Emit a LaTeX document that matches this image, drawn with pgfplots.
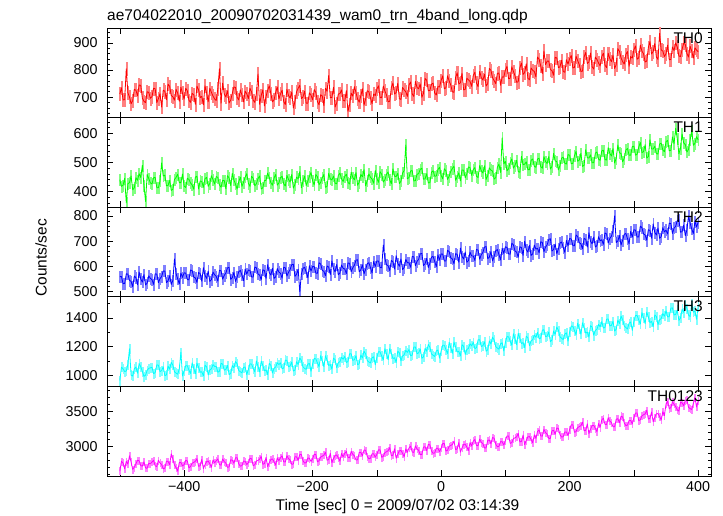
\documentclass[border=0pt]{standalone}
\usepackage{fontspec}
\setmainfont{Liberation Sans}
\usepackage{pgfplots}
\pgfplotsset{compat=1.18}
\usepackage{pgfplotstable}
\definecolor{cR}{rgb}{1,0,0}
\definecolor{cG}{rgb}{0,1,0}
\definecolor{cB}{rgb}{0,0,1}
\definecolor{cC}{rgb}{0,1,1}
\definecolor{cM}{rgb}{1,0,1}
\definecolor{lR}{rgb}{1,0.5,0.5}
\definecolor{lG}{rgb}{0.5,1,0.5}
\definecolor{lB}{rgb}{0.5,0.5,1}
\definecolor{lC}{rgb}{0.5,1,1}
\definecolor{lM}{rgb}{1,0.5,1}

\pgfplotstableread[row sep=\\]{
x a b c d e\\
-500 712 440 560 965 2640\\
-497.5 735 417 560 1057 2782\\
-495 690 421 532 1045 2758\\
-492.5 691 445 533 1026 2674\\
-490 805 360 571 1030 2780\\
-487.5 716 426 570 1077 2742\\
-485 701 430 545 1185 2860\\
-482.5 676 453 541 1001 2769\\
-480 688 405 520 995 2665\\
-477.5 729 412 562 1046 2696\\
-475 726 447 556 1058 2745\\
-472.5 705 438 528 1015 2796\\
-470 745 461 578 1082 2790\\
-467.5 744 448 551 1060 2719\\
-465 697 490 538 1027 2712\\
-462.5 685 421 568 993 2773\\
-460 680 365 527 1001 2684\\
-457.5 720 458 534 1035 2683\\
-455 718 444 563 1049 2751\\
-452.5 696 429 553 1052 2746\\
-450 702 425 548 1056 2771\\
-447.5 733 447 529 1012 2796\\
-445 731 448 571 1019 2715\\
-442.5 680 413 570 1073 2706\\
-440 695 412 536 1071 2797\\
-437.5 713 436 552 1026 2756\\
-435 664 498 560 1033 2736\\
-432.5 726 453 582 1059 2674\\
-430 722 456 582 998 2683\\
-427.5 691 419 536 1003 2783\\
-425 748 420 543 1064 2780\\
-422.5 740 438 564 1043 2733\\
-420 706 403 529 1090 2890\\
-417.5 702 407 545 1071 2814\\
-415 689 441 630 1025 2727\\
-412.5 729 448 572 1015 2692\\
-410 715 459 551 1008 2640\\
-407.5 685 430 531 1045 2765\\
-405 737 430 574 1160 2764\\
-402.5 715 460 557 995 2715\\
-400 693 418 575 1030 2733\\
-397.5 733 413 574 1067 2795\\
-395 724 445 549 1067 2787\\
-392.5 689 441 547 1036 2687\\
-390 681 429 586 1013 2706\\
-387.5 714 422 584 1087 2755\\
-385 710 407 558 1049 2765\\
-382.5 674 449 555 1011 2782\\
-380 741 452 537 1085 2820\\
-377.5 727 408 576 1056 2709\\
-375 699 436 572 1022 2719\\
-372.5 703 434 542 1025 2809\\
-370 672 414 595 996 2678\\
-367.5 742 444 565 1070 2732\\
-365 716 448 553 1059 2776\\
-362.5 683 417 582 1003 2786\\
-360 733 427 541 1038 2745\\
-357.5 718 454 548 1045 2696\\
-355 704 440 578 1075 2801\\
-352.5 694 425 567 1062 2759\\
-350 688 451 561 1062 2789\\
-347.5 731 448 542 1022 2816\\
-345 805 422 585 1028 2734\\
-342.5 678 414 583 1083 2726\\
-340 752 438 550 1079 2815\\
-337.5 711 437 565 1036 2776\\
-335 701 409 574 1041 2755\\
-332.5 724 454 595 1069 2694\\
-330 679 446 596 1005 2701\\
-327.5 689 420 549 1013 2803\\
-325 714 462 556 1068 2797\\
-322.5 738 439 577 1053 2753\\
-320 736 425 541 1096 2831\\
-317.5 700 408 558 1081 2834\\
-315 690 433 579 1034 2745\\
-312.5 727 449 585 1025 2712\\
-310 708 417 566 1017 2718\\
-307.5 683 431 544 1055 2785\\
-305 722 449 590 1058 2780\\
-302.5 713 461 570 1005 2735\\
-300 695 428 586 1041 2761\\
-297.5 733 417 585 1080 2825\\
-295 719 452 559 1078 2818\\
-292.5 689 445 558 1049 2717\\
-290 681 419 598 1024 2732\\
-287.5 714 426 595 1100 2785\\
-285 785 444 570 1063 2795\\
-282.5 674 453 566 1024 2812\\
-280 706 408 548 1099 2851\\
-277.5 727 412 587 1069 2739\\
-275 668 437 584 1032 2748\\
-272.5 703 438 553 1038 2839\\
-270 725 463 607 1006 2706\\
-267.5 742 448 576 1083 2762\\
-265 713 430 566 1070 2808\\
-262.5 683 421 593 1016 2816\\
-260 690 446 553 1049 2774\\
-257.5 718 458 559 1058 2726\\
-255 738 421 592 1088 2832\\
-252.5 694 429 578 1075 2789\\
-250 712 447 573 1087 2834\\
-247.5 726 452 554 1045 2860\\
-245 684 426 597 1051 2776\\
-242.5 673 418 595 1106 2770\\
-240 729 455 562 1104 2862\\
-237.5 706 441 577 1059 2820\\
-235 697 432 588 1066 2799\\
-232.5 719 458 607 1092 2738\\
-230 660 411 609 1030 2743\\
-227.5 684 424 561 1036 2847\\
-225 720 449 569 1095 2845\\
-222.5 733 443 589 1076 2797\\
-220 744 468 500 1121 2880\\
-217.5 695 412 570 1104 2878\\
-215 701 435 593 1059 2790\\
-212.5 722 453 597 1048 2756\\
-210 678 420 578 1042 2762\\
-207.5 678 435 556 1078 2829\\
-205 716 452 603 1083 2826\\
-202.5 708 465 582 1028 2779\\
-200 690 436 600 1078 2818\\
-197.5 728 422 600 1117 2883\\
-195 718 458 574 1115 2879\\
-192.5 684 450 573 1086 2775\\
-190 672 423 615 1060 2790\\
-187.5 709 431 610 1137 2843\\
-185 705 447 585 1101 2855\\
-182.5 669 458 581 1061 2870\\
-180 733 414 563 1137 2913\\
-177.5 722 417 602 1106 2797\\
-175 780 462 598 1069 2806\\
-172.5 698 443 568 1075 2897\\
-170 699 439 622 1043 2763\\
-167.5 737 453 591 1120 2820\\
-165 664 428 579 1109 2866\\
-162.5 678 426 608 1053 2874\\
-160 712 455 567 1088 2832\\
-157.5 713 463 574 1095 2784\\
-155 727 443 606 1126 2894\\
-152.5 689 434 593 1112 2847\\
-150 686 452 590 1133 2897\\
-147.5 724 459 572 1090 2922\\
-145 648 431 614 1096 2838\\
-142.5 671 425 613 1151 2832\\
-140 715 466 579 1150 2925\\
-137.5 704 448 595 1104 2882\\
-135 739 440 605 1109 2861\\
-132.5 717 465 625 1137 2800\\
-130 693 421 627 1074 2804\\
-127.5 682 431 579 1081 2909\\
-125 705 458 587 1142 2910\\
-122.5 731 450 607 1121 2859\\
-120 671 475 571 1168 2945\\
-117.5 693 419 588 1149 2940\\
-115 724 437 611 1103 2853\\
-112.5 720 460 615 1093 2818\\
-110 698 449 596 1086 2825\\
-107.5 676 442 574 1123 2891\\
-105 712 428 620 1129 2889\\
-102.5 706 472 600 1073 2841\\
-100 730 445 622 1125 2882\\
-97.5 742 431 622 1165 2947\\
-95 699 468 596 1163 2945\\
-92.5 698 459 595 1134 2839\\
-90 741 432 685 1108 2853\\
-87.5 723 440 632 1185 2907\\
-85 708 459 607 1148 2919\\
-82.5 683 467 603 1109 2934\\
-80 685 440 584 1186 2980\\
-77.5 736 426 624 1154 2861\\
-75 752 478 619 1117 2870\\
-72.5 712 452 590 1123 2961\\
-70 717 451 643 1090 2826\\
-67.5 751 462 613 1168 2884\\
-65 694 427 601 1157 2932\\
-62.5 692 435 630 1101 2938\\
-60 736 463 588 1135 2896\\
-57.5 727 472 596 1143 2848\\
-55 720 560 628 1174 2960\\
-52.5 703 443 615 1160 2911\\
-50 745 448 615 1180 2975\\
-47.5 756 470 597 1137 3000\\
-45 712 472 640 1141 2915\\
-42.5 703 436 638 1198 2910\\
-40 758 437 603 1197 3004\\
-37.5 736 459 620 1151 2960\\
-35 731 461 629 1156 2939\\
-32.5 749 476 650 1184 2878\\
-30 700 480 652 1119 2880\\
-27.5 714 442 604 1128 2987\\
-25 769 443 611 1188 2990\\
-22.5 763 461 632 1168 2937\\
-20 724 429 596 1215 3025\\
-17.5 725 430 613 1196 3018\\
-15 748 466 637 1149 2931\\
-12.5 752 471 640 1140 2896\\
-10 715 452 620 1131 2902\\
-7.5 708 453 599 1170 2969\\
-5 739 475 646 1176 2968\\
-2.5 738 483 625 1120 2919\\
0 762 455 650 1170 2971\\
2.5 779 443 649 1210 3037\\
5 731 478 622 1209 3036\\
7.5 735 471 622 1179 2929\\
10 779 441 664 1152 2942\\
12.5 760 452 659 1230 2997\\
15 745 469 634 1193 3010\\
17.5 720 479 630 1154 3024\\
20 718 487 611 1232 3072\\
22.5 773 438 651 1199 2951\\
25 790 450 648 1162 2959\\
27.5 749 464 617 1168 3051\\
30 753 436 673 1135 2914\\
32.5 788 474 640 1213 2974\\
35 727 473 630 1202 3024\\
37.5 729 447 657 1146 3028\\
40 770 460 617 1180 2986\\
42.5 764 484 623 1188 2938\\
45 758 482 657 1220 3052\\
47.5 740 455 642 1205 3001\\
50 780 475 642 1230 3072\\
52.5 792 482 624 1187 3096\\
55 752 452 668 1192 3010\\
57.5 739 448 665 1248 3006\\
60 795 489 629 1248 3102\\
62.5 772 471 647 1201 3056\\
65 763 463 656 1206 3035\\
67.5 785 488 677 1234 2974\\
70 741 441 679 1168 2975\\
72.5 750 454 631 1178 3083\\
75 806 481 637 1239 3089\\
77.5 799 473 659 1218 3033\\
80 772 470 622 1266 3124\\
82.5 761 442 640 1246 3114\\
85 750 447 663 1200 3027\\
87.5 788 483 667 1190 2992\\
90 789 494 647 1182 2997\\
92.5 744 465 626 1220 3065\\
95 775 585 672 1227 3064\\
97.5 774 495 652 1170 3015\\
100 800 503 678 1229 3080\\
102.5 814 471 676 1270 3147\\
105 768 478 650 1268 3146\\
107.5 770 499 649 1239 3039\\
110 812 512 692 1210 3050\\
112.5 795 480 686 1290 3107\\
115 779 490 661 1253 3120\\
117.5 755 507 657 1214 3134\\
120 757 468 637 1292 3183\\
122.5 808 466 678 1259 3061\\
125 826 521 675 1221 3068\\
127.5 784 492 644 1228 3161\\
130 791 494 700 1194 3022\\
132.5 823 502 667 1273 3084\\
135 770 475 657 1262 3134\\
137.5 764 475 684 1206 3138\\
140 808 507 644 1240 3096\\
142.5 799 512 650 1248 3048\\
145 795 486 685 1281 3163\\
147.5 775 483 669 1265 3111\\
150 848 512 672 1299 3211\\
152.5 840 514 654 1255 3234\\
155 815 485 698 1259 3148\\
157.5 787 480 695 1316 3144\\
160 870 520 659 1317 3240\\
162.5 820 503 677 1269 3194\\
165 833 496 686 1273 3173\\
167.5 833 520 707 1302 3112\\
170 802 477 710 1234 3112\\
172.5 798 486 661 1246 3221\\
175 781 531 667 1308 3227\\
177.5 847 505 689 1286 3171\\
180 845 503 651 1336 3262\\
182.5 809 474 670 1314 3252\\
185 812 489 693 1268 3165\\
187.5 836 515 697 1258 3130\\
190 795 518 676 1249 3135\\
192.5 792 497 656 1288 3203\\
195 838 494 703 1296 3203\\
197.5 822 527 682 1238 3153\\
200 842 525 711 1302 3240\\
202.5 854 495 709 1343 3307\\
205 808 497 683 1342 3307\\
207.5 810 523 682 1312 3199\\
210 851 538 725 1283 3209\\
212.5 835 504 719 1363 3267\\
215 820 508 694 1326 3281\\
217.5 795 531 690 1287 3294\\
220 796 486 670 1366 3345\\
222.5 848 490 711 1332 3221\\
225 865 544 708 1294 3228\\
227.5 824 516 677 1301 3321\\
230 830 515 734 1266 3181\\
232.5 863 526 700 1346 3244\\
235 812 499 690 1336 3296\\
237.5 804 499 717 1279 3298\\
240 848 532 677 1313 3256\\
242.5 839 536 683 1321 3208\\
245 826 511 718 1355 3325\\
247.5 815 507 702 1338 3271\\
250 850 540 706 1374 3379\\
252.5 862 542 688 1330 3401\\
255 818 510 733 1333 3314\\
257.5 809 508 729 1391 3311\\
260 862 551 693 1393 3409\\
262.5 842 531 711 1344 3361\\
265 831 522 720 1348 3340\\
267.5 855 548 741 1377 3279\\
270 806 498 800 1308 3278\\
272.5 820 514 695 1321 3388\\
275 879 560 701 1384 3395\\
277.5 869 533 723 1361 3338\\
280 845 531 685 1412 3431\\
282.5 831 502 704 1389 3419\\
285 822 514 728 1343 3332\\
287.5 858 543 731 1333 3297\\
290 868 548 711 1323 3301\\
292.5 814 525 690 1363 3370\\
295 850 525 739 1371 3370\\
297.5 844 555 716 1313 3320\\
300 875 556 746 1376 3410\\
302.5 889 525 744 1417 3477\\
305 840 528 717 1417 3478\\
307.5 845 553 717 1386 3369\\
310 892 569 760 1357 3378\\
312.5 870 534 754 1437 3437\\
315 860 537 729 1400 3452\\
317.5 830 561 725 1361 3464\\
320 833 515 704 1441 3517\\
322.5 883 520 746 1406 3391\\
325 905 578 743 1368 3398\\
327.5 859 546 712 1375 3491\\
330 868 546 769 1339 3350\\
332.5 898 556 735 1420 3414\\
335 848 530 725 1410 3467\\
337.5 839 529 752 1353 3468\\
340 935 564 712 1387 3426\\
342.5 874 566 718 1395 3378\\
345 870 543 754 1430 3496\\
347.5 850 537 737 1412 3441\\
350 860 572 744 1450 3608\\
352.5 892 576 729 1407 3644\\
355 838 540 772 1408 3541\\
357.5 839 542 770 1468 3554\\
360 885 588 731 1470 3638\\
362.5 872 565 752 1421 3604\\
365 900 618 759 1424 3568\\
367.5 885 582 782 1454 3522\\
370 852 530 785 1383 3504\\
372.5 850 548 736 1398 3631\\
375 876 598 738 1461 3623\\
377.5 899 567 764 1438 3581\\
380 895 562 722 1490 3660\\
382.5 861 536 745 1466 3662\\
385 848 545 800 1419 3560\\
387.5 888 577 772 1410 3540\\
390 870 610 748 1500 3528\\
392.5 844 559 731 1440 3613\\
395 882 566 779 1448 3700\\
397.5 874 589 757 1390 3563\\
400 868 578 775 1480 3650\\
}\data

\pgfplotsset{
  panel/.style={
    width=604pt, height=89.6pt, scale only axis,
    xmin=-520, xmax=420,
    xtick={-500,-400,...,400},
    xticklabels={},
    tick align=inside,
    major tick length=6pt, minor tick length=3pt,
    tick style={black, line width=0.6pt},
    axis line style={line width=0.8pt},
    ticklabel style={font=\fontsize{14.3}{16}\selectfont},
    /pgf/number format/assume math mode=true,
    /pgf/number format/1000 sep={},
    yticklabel style={xshift=-6pt},
    xticklabel style={yshift=-2pt},
    clip marker paths=true,
  },
  errb/.style 2 args={only marks, mark=square*, mark size=#1, color=#2,
    mark options={draw=none, fill=#2, xscale=0.08, solid}},
  dark/.style={color=#1, draw=#1, line width=0.8pt, mark=none, line join=round},
}
\tikzset{
  lab/.style={anchor=north east, inner sep=0pt, xshift=-8pt, yshift=-4pt,
    font=\fontsize{15.5}{18}\selectfont},
}

\begin{document}
\begin{tikzpicture}
\useasboundingbox (0,0) rectangle (723pt,516pt);

% TH0
\begin{axis}[panel, at={(107pt,398.4pt)}, anchor=south west,
  ymin=625, ymax=955, ytick={700,800,900}, minor ytick={640,660,...,940}]
\addplot[errb={6.5pt}{lR}] table[x=x,y=a]{\data};
\addplot[dark=cR] table[x=x,y=a]{\data};
\node[lab] at (rel axis cs:1,1) {TH0};
\end{axis}

% TH1
\begin{axis}[panel, at={(107pt,308.8pt)}, anchor=south west,
  ymin=345, ymax=655, ytick={400,500,600}, minor ytick={360,380,...,640}]
\addplot[errb={5.5pt}{lG}] table[x=x,y=b]{\data};
\addplot[dark=cG] table[x=x,y=b]{\data};
\node[lab] at (rel axis cs:1,1) {TH1};
\end{axis}

% TH2
\begin{axis}[panel, at={(107pt,219.2pt)}, anchor=south west,
  ymin=480, ymax=835, ytick={500,600,700,800}, minor ytick={500,520,...,820}]
\addplot[errb={5.5pt}{lB}] table[x=x,y=c]{\data};
\addplot[dark=cB] table[x=x,y=c]{\data};
\node[lab] at (rel axis cs:1,1) {TH2};
\end{axis}

% TH3
\begin{axis}[panel, at={(107pt,129.6pt)}, anchor=south west,
  ymin=923, ymax=1547, ytick={1000,1200,1400}, minor ytick={1100,1300,1500}]
\addplot[errb={4.5pt}{lC}] table[x=x,y=d]{\data};
\addplot[dark=cC] table[x=x,y=d]{\data};
\node[lab] at (rel axis cs:1,1) {TH3};
\end{axis}

% TH0123
\begin{axis}[panel, at={(107pt,40pt)}, anchor=south west,
  ymin=2570, ymax=3860, ytick={3000,3500}, minor ytick={2600,2700,...,3800},
  xticklabels={,−400,,−200,,0,,200,,400}]
\addplot[errb={3.5pt}{lM}] table[x=x,y=e]{\data};
\addplot[dark=cM] table[x=x,y=e]{\data};
\node[lab] at (rel axis cs:1,1) {TH0123};
\end{axis}

\node[anchor=base west, inner sep=0pt, font=\fontsize{15.5}{18}\selectfont]
  at (107pt,495pt) {ae704022010\_20090702031439\_wam0\_trn\_4band\_long.qdp};
\node[rotate=90, inner sep=0pt, font=\fontsize{15.5}{18}\selectfont]
  at (41pt,258pt) {Counts/sec};
\node[anchor=base, inner sep=0pt, font=\fontsize{15.5}{18}\selectfont]
  at (397.5pt,5pt) {Time [sec] 0 = 2009/07/02 03:14:39};
\end{tikzpicture}
\end{document}
